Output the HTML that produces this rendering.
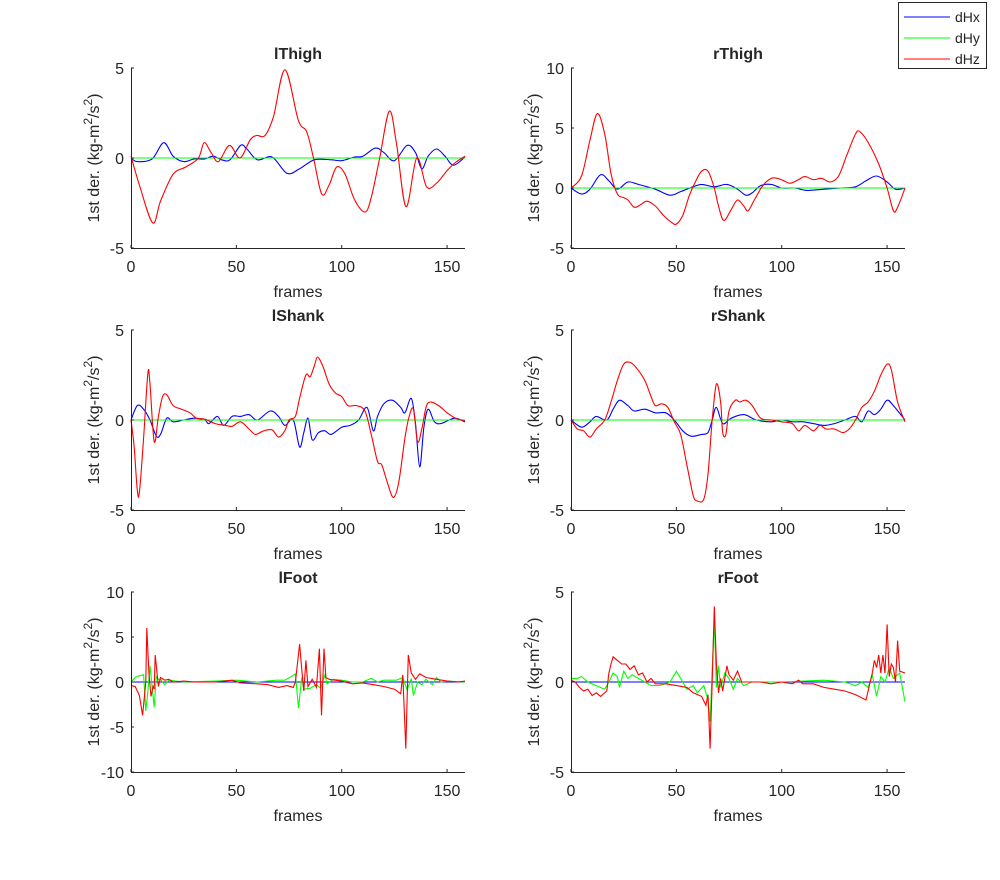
<!DOCTYPE html>
<html><head><meta charset="utf-8"><style>
body{margin:0;background:#fff;}
svg text{font-family:"Liberation Sans",Arial,sans-serif;fill:#262626;}
</style></head><body>
<svg id="fig" width="1000" height="875" viewBox="0 0 1000 875">
<g>
<rect x="898.5" y="2.5" width="88" height="66" fill="#fff" stroke="#262626" stroke-width="1"/>
<g><line x1="904" y1="17" x2="950" y2="17" stroke="#0000ff"/><text x="955" y="22" font-size="14">dHx</text></g>
<g><line x1="904" y1="38" x2="950" y2="38" stroke="#00ff00"/><text x="955" y="43" font-size="14">dHy</text></g>
<g><line x1="904" y1="59" x2="950" y2="59" stroke="#ff0000"/><text x="955" y="64" font-size="14">dHz</text></g>
</g>
</svg>
<script>
const xTicks=[0,50,100,150];
const titles=["lThigh","rThigh","lShank","rShank","lFoot","rFoot"];
const yTicksA=[-5,0,5];
const yTicksB=[-5,0,5,10];
const yTicksC=[-10,-5,0,5,10];
const lThighX=[[0,0],[3,-0.2],[10,-0.05],[15.5,0.85],[20,0.1],[25,-0.2],[30,-0.05],[35,-0.05],[39,0.1],[43,-0.1],[47,-0.1],[52,0.7],[55,0.5],[60,-0.1],[67,0.05],[74,-0.85],[80,-0.6],[87,-0.1],[95,-0.1],[100,-0.15],[106,0.05],[110,0.1],[116,0.55],[120,0.3],[125,-0.15],[131,0.7],[135,0.3],[138,-0.6],[141,0.1],[145,0.5],[149,0.1],[153,-0.4],[158.5,0.05]];
const lThighZ=[[0,0.1],[4,-1.5],[10.3,-3.6],[14,-2.4],[20,-0.9],[26,-0.5],[32,0],[34.7,0.85],[38,0.3],[41.5,-0.2],[46.7,0.7],[51.7,0],[56.5,1.0],[59.6,1.25],[63.6,1.25],[67.6,2.3],[73.1,4.9],[79.4,2.1],[83.4,1.45],[86.6,0],[90.5,-2.0],[94,-1.5],[97.6,-0.5],[101.6,-0.9],[106,-2.3],[111,-3.0],[114,-2.2],[118,0],[122.6,2.6],[126,0.8],[130.5,-2.7],[135.6,0],[140.3,-1.6],[145,-1.4],[150,-0.7],[154,-0.25],[158.5,0.1]];
const rThighX=[[0,0],[5,-0.5],[9,-0.1],[14,1.1],[18,0.6],[22,-0.1],[27,0.5],[32,0.3],[40,-0.1],[47,-0.6],[52,-0.3],[58,0.1],[62,0.3],[68,0.1],[74,0.3],[79,-0.1],[83,-0.6],[86,-0.4],[90,0.2],[95,0.3],[100,0],[106,0],[112,-0.2],[120,-0.1],[128,0],[135,0.1],[140,0.6],[145,1.0],[150,0.5],[154,-0.1],[158.5,0]];
const rThighZ=[[0,0],[5,1],[9,4],[12.5,6.2],[16,4.5],[19,1.2],[22,-0.5],[25,-0.8],[27,-1.0],[30,-1.6],[33,-1.4],[36,-1.1],[40,-1.5],[44,-2.3],[48,-2.9],[50,-3.0],[53,-2.3],[56,-0.7],[59,0.5],[62,1.4],[65,1.4],[68,0],[70,-1.5],[72.5,-2.7],[76,-1.8],[79,-1.0],[82,-1.5],[84,-1.9],[87,-1.0],[91,0.2],[95,0.8],[98,0.8],[101,0.6],[104,0.4],[108,0.7],[111,0.95],[115,0.7],[119,0.8],[123,0.5],[127,1.0],[131,2.8],[135,4.5],[137,4.7],[141,3.8],[146,2.0],[150,0],[153,-1.9],[155,-1.6],[158.5,0]];
const lShankX=[[0,0],[3,0.8],[6,0.6],[9,0],[12,-0.9],[14,-0.8],[17,0.1],[20,-0.1],[25,0],[30,0.1],[35,0],[37,-0.2],[41,0.2],[44,-0.3],[48,0.2],[52,0.2],[56,0.3],[60,0],[66,0.5],[70,0.2],[73,-0.3],[77,0],[80,-1.5],[82,-0.7],[84,0.1],[86,-1.1],[89,-0.7],[92,-0.6],[95,-0.8],[100,-0.4],[104,-0.3],[108,0],[112,0.7],[115,-0.6],[117,0.2],[120,0.9],[124,1.1],[128,0.7],[130,0.4],[133,1.2],[135,-0.2],[137,-2.6],[139,-0.4],[141,0.6],[144,-0.1],[147,-0.2],[151,0],[154,0.1],[158.5,-0.1]];
const lShankZ=[[0,0],[1.5,-1.5],[3,-3.9],[4,-4.0],[6,-1],[8,2.6],[9,2.0],[11,-1.2],[13,0.2],[15,1.3],[17,1.4],[20,0.8],[24,0.6],[28,0.4],[31,0.1],[35,0.05],[40,-0.2],[45,-0.3],[48,-0.35],[52,-0.1],[56,-0.5],[59,-0.8],[63,-0.6],[67,-0.55],[70,-0.95],[73,-0.6],[75,0],[78,0.2],[80,1.2],[83,2.5],[85,2.4],[87,3.0],[88.5,3.5],[91,3.0],[94,2.0],[97,1.5],[100,1.3],[103,0.8],[107,0.8],[111,0.5],[114,-0.8],[117,-2.3],[119,-2.5],[122,-3.6],[124.5,-4.3],[127,-3.5],[130,-1.0],[132,0.2],[134,0.6],[136,-1.2],[138,-0.5],[140,0.7],[142,1.0],[146,0.8],[150,0.4],[154,0.1],[158.5,-0.05]];
const rShankX=[[0,0],[5,-0.4],[9,-0.1],[12,0.2],[17,0],[20,0.6],[23,1.1],[27,0.8],[30,0.5],[35,0.6],[40,0.4],[45,0.4],[49,0],[53,-0.6],[57,-0.9],[62,-0.8],[65,-0.7],[67,0],[69,0.7],[72,-0.2],[76,0.1],[82,0.3],[88,0],[95,-0.1],[100,0],[105,-0.1],[110,-0.1],[115,-0.2],[120,-0.3],[125,-0.2],[130,0],[135,0.2],[138,-0.1],[141,0.5],[144,0.3],[147,0.6],[150,1.1],[153,0.8],[158.5,0]];
const rShankZ=[[0,0],[3,-0.5],[6,-0.6],[9,-0.95],[12,-0.5],[16,0],[19,1],[22,2.2],[25,3.1],[28,3.2],[31,2.9],[35,2.2],[38,1.3],[40,0.8],[43,0.9],[46,0.7],[49,-0.1],[52,-0.8],[55,-2.5],[58,-4.2],[60,-4.5],[63,-4.4],[65,-3.0],[67,0],[69,2.0],[71,1.0],[72,-0.7],[73.5,-0.8],[75,0.5],[78,1.1],[80,1.0],[83,1.1],[86,0.8],[90,0.1],[95,0],[100,-0.1],[105,-0.2],[108,-0.6],[111,-0.3],[115,-0.6],[118,-0.3],[121,-0.5],[125,-0.5],[129,-0.7],[132,-0.5],[135,0],[138,0.7],[141,1.0],[144,1.6],[147,2.5],[150,3.1],[152,2.8],[155,1.0],[158.5,-0.1]];
const lFootY=[[0,0],[2,0.5],[4,0.7],[6,0.8],[7,-3.2],[8,-1],[9,1.8],[10,-0.5],[11,-2.8],[12,0.6],[13,0.3],[14,0.3],[16,-0.3],[18,0.2],[25,0],[40,0.1],[50,0.2],[60,0],[69,0.2],[73,0.2],[76,0.6],[78,0.9],[79.5,-2.9],[81,0.5],[82,-0.8],[85,-0.7],[88,-0.3],[90,-0.7],[92,0.8],[93,-0.2],[96,0.3],[100,0.2],[105,0],[110,0],[114,0.4],[117,0],[120,0.2],[126,0.2],[129,0.5],[131,-0.9],[133,0.4],[134,-1.5],[136,0],[138,-0.3],[140,0.3],[143,-0.3],[145,0.5],[147,0],[150,0.1],[158.5,0]];
const lFootZ=[[0,-0.4],[2,-0.5],[4,-1.5],[5.5,-3.7],[7,0],[7.5,6.0],[8.5,1],[9.5,-1.6],[10.5,-0.5],[11,-0.8],[11.5,3.0],[13,-0.5],[14,0.5],[16,0.2],[18,0.3],[20,0],[25,0.1],[30,0],[40,0],[48,0.2],[52,-0.1],[60,-0.2],[65,-0.3],[70,-0.6],[74,-0.4],[77,-0.6],[78,0],[80,4.2],[81,1.5],[82,-1.0],[83,2.4],[84,-0.5],[86,0.3],[88,-0.6],[89.4,3.7],[90.4,-3.7],[91.6,3.7],[92.5,0.5],[94,0.3],[100,0.1],[105,-0.2],[110,-0.1],[115,-0.3],[120,-0.5],[125,-0.8],[128,-1.3],[129,0.8],[130.4,-7.4],[131.6,3.0],[133,1.0],[135,0.3],[137,0.9],[140,0.5],[145,0.3],[150,0.1],[155,0],[158.5,0.1]];
const rFootY=[[0,0.2],[3,0.2],[5,0.3],[8,0],[12,-0.2],[16,-0.4],[18,0],[20,0.5],[22,0.3],[23,-0.3],[25,0.6],[27,0.2],[29,0.4],[32,0.2],[35,0],[38,-0.2],[42,-0.2],[47,0],[50,0.6],[52,0.2],[55,-0.4],[58,-0.2],[60,-0.6],[63,-0.2],[65,-1],[66,-2.2],[68,3.5],[69,-0.3],[70,0.9],[71,-0.3],[73,0.5],[75,0.2],[77,-0.4],[79,0.2],[82,-0.2],[86,0],[100,0],[120,0.1],[130,0],[135,-0.2],[138,0],[141,-0.3],[143,0.4],[145,-0.8],[147,0.3],[149,0],[151,0.8],[153,0.2],[156,0.5],[158.5,-1.1]];
const rFootZ=[[0,0.1],[2,0],[4,-0.3],[6,-0.5],[8,-0.4],[10,-0.75],[12,-0.6],[14,-0.8],[17,-0.5],[18,0.5],[19,1.0],[20,1.4],[22,1.2],[24,1.0],[26,1.0],[28,0.7],[30,0.9],[32,0.4],[34,0.5],[36,0],[38,0.2],[40,-0.1],[45,-0.1],[50,-0.2],[55,-0.3],[58,-0.6],[62,-0.8],[64,-1.3],[65,-0.7],[66,-3.7],[67,0],[68,4.2],[69,1],[70,-0.6],[71,0.2],[72,-0.5],[74,0.9],[75,0.4],[77,0.1],[79,0.6],[81,0],[85,0],[90,0],[95,-0.1],[100,0],[105,-0.1],[108,0.1],[110,-0.1],[115,-0.1],[120,-0.3],[125,-0.4],[130,-0.5],[135,-0.7],[140,-1.0],[141,-0.5],[143,0.5],[144,1.2],[145,0.8],[146,1.5],[147,0.5],[148,1.5],[149,0.5],[150,3.2],[151,0.3],[152,1.0],[153,0.8],[154,0],[155,2.3],[156,0.6],[158.5,0.5]];
const zeroLine=[[0,0],[158.5,0]];

const NS="http://www.w3.org/2000/svg";
const svg=document.getElementById('fig');
function mk(tag,attrs,parent){const e=document.createElementNS(NS,tag);for(const k in attrs)e.setAttribute(k,attrs[k]);parent.appendChild(e);return e;}
const XMAX=158.5;
const panels=[
 {L:131,T:68,ticks:yTicksA,ymin:-5,ymax:5,series:[[lThighX,'#0000ff',1],[zeroLine,'#00ff00',1],[lThighZ,'#ff0000',1]]},
 {L:571,T:68,ticks:yTicksB,ymin:-5,ymax:10,series:[[rThighX,'#0000ff',1],[zeroLine,'#00ff00',1],[rThighZ,'#ff0000',1]]},
 {L:131,T:330,ticks:yTicksA,ymin:-5,ymax:5,series:[[lShankX,'#0000ff',1],[zeroLine,'#00ff00',1],[lShankZ,'#ff0000',1]]},
 {L:571,T:330,ticks:yTicksA,ymin:-5,ymax:5,series:[[rShankX,'#0000ff',1],[zeroLine,'#00ff00',1],[rShankZ,'#ff0000',1]]},
 {L:131,T:592,ticks:yTicksC,ymin:-10,ymax:10,series:[[zeroLine,'#0000ff',0],[lFootY,'#00ff00',0],[lFootZ,'#ff0000',0]]},
 {L:571,T:592,ticks:yTicksA,ymin:-5,ymax:5,series:[[zeroLine,'#0000ff',0],[rFootY,'#00ff00',0],[rFootZ,'#ff0000',0]]}
];
const W=334,H=180;
function smoothPath(pts){
 let d='M'+pts[0][0].toFixed(1)+','+pts[0][1].toFixed(1);
 for(let i=0;i<pts.length-1;i++){
  const p0=pts[Math.max(0,i-1)],p1=pts[i],p2=pts[i+1],p3=pts[Math.min(pts.length-1,i+2)];
  const c1x=p1[0]+(p2[0]-p0[0])/6,c1y=p1[1]+(p2[1]-p0[1])/6,c2x=p2[0]-(p3[0]-p1[0])/6,c2y=p2[1]-(p3[1]-p1[1])/6;
  d+=' C'+c1x.toFixed(1)+','+c1y.toFixed(1)+' '+c2x.toFixed(1)+','+c2y.toFixed(1)+' '+p2[0].toFixed(1)+','+p2[1].toFixed(1);
 }
 return d;
}
const names=['dhx','dhy','dhz'];
panels.forEach((p,i)=>{
 const g=mk('g',{},svg);
 
 
 const xs=v=>p.L+v/XMAX*W;
 const ys=v=>p.T+H-(v-p.ymin)/(p.ymax-p.ymin)*H;
 const cx=p.L+W/2;
 const t=mk('text',{x:cx,y:p.T-9,'font-size':'16','font-weight':'bold','text-anchor':'middle'},g);
 t.textContent=titles[i];
 
 
 p.series.forEach((s,k)=>{
  const pts=s[0].map(d=>[xs(d[0]),ys(d[1])]);
  const d=s[2]?smoothPath(pts):'M'+pts.map(q=>q[0].toFixed(1)+','+q[1].toFixed(1)).join(' L');
  const path=mk('path',{d:d,fill:'none',stroke:s[1],'stroke-width':'1.1'},g);
  
  
 });
 const ax=mk('path',{d:`M${p.L+.5},${p.T} V${p.T+H+.5} H${p.L+W}`,fill:'none',stroke:'#262626','stroke-width':'1'},g);
 
 
 xTicks.forEach(v=>{
  const x=xs(v);
  mk('line',{x1:x,y1:p.T+H,x2:x,y2:p.T+H-3,stroke:'#262626'},g);
  const tl=mk('text',{x:x,y:p.T+H+24,'font-size':'16','text-anchor':'middle'},g);
  tl.textContent=v;
  
  
 });
 p.ticks.forEach(v=>{
  const y=ys(v);
  mk('line',{x1:p.L,y1:y,x2:p.L+3,y2:y,stroke:'#262626'},g);
  const tl=mk('text',{x:p.L-7,y:y+6,'font-size':'16','text-anchor':'end'},g);
  tl.textContent=v;
  
  
 });
 const xl=mk('text',{x:cx,y:p.T+H+49,'font-size':'16','text-anchor':'middle'},g);
 xl.textContent='frames';
 
 
 const yl=mk('text',{x:0,y:0,'font-size':'16','text-anchor':'middle',transform:`translate(${p.L-32},${p.T+H/2}) rotate(-90)`},g);
 yl.innerHTML='1st der. (kg-m<tspan dy="-7" font-size="12">2</tspan><tspan dy="7">/s</tspan><tspan dy="-7" font-size="12">2</tspan><tspan dy="7">)</tspan>';
 
 
});
</script>
</body></html>
